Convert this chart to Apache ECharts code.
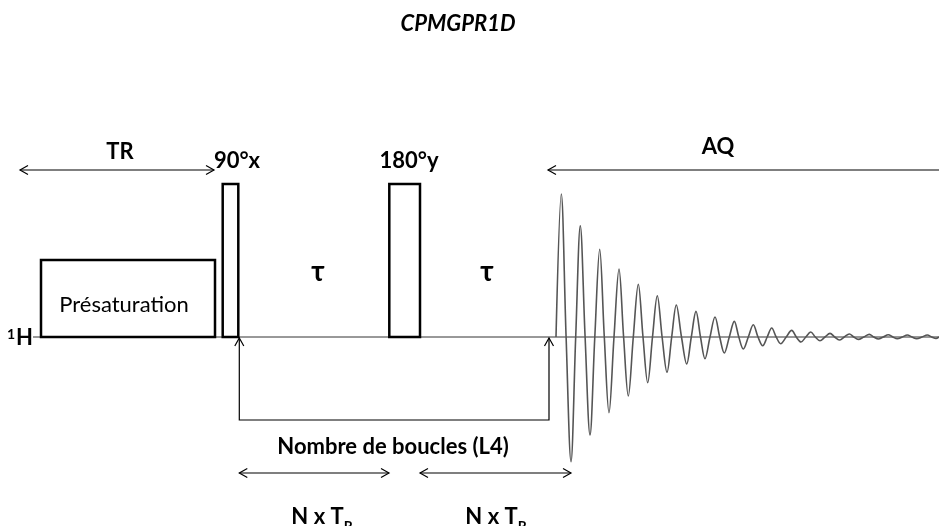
<!DOCTYPE html>
<html>
<head>
<meta charset="utf-8">
<script src="https://cdn.jsdelivr.net/npm/echarts@6/dist/echarts.min.js"></script>
<style>html,body{margin:0;padding:0;background:#fff;}#c{width:939px;height:526px;}</style>
</head>
<body>
<div id="c"></div>
<script>
// Time axis (arbitrary units) and amplitude relative to the 1H baseline
const baseline = [[33, 0], [939, 0]];
// pulses: [start, end, height]
const pulses = [[41, 215, 77], [222.7, 238.3, 153], [389.3, 420, 153]];
// horizontal arrows: [from, to, level, heads]
const hArrows = [[20, 214, 167, 'both'], [548, 939, 167, 'start'], [239.3, 389, -136, 'both'], [420, 571, -136, 'both']];
// loop bracket: [x1, x2, top, bottom]
const loopBracket = [[239.3, 549, -1, -83]];
// FID: extremes and baseline crossings
const fidTime = [556, 561.3, 566.1, 571, 575.7, 580.3, 585.1, 590, 594.8, 599.7, 604.3, 609, 614, 619, 623.6, 628.3, 633.3, 638.3, 643, 647.7, 652.5, 657.3, 662.1, 667, 671.7, 676.3, 681.5, 686.7, 691.3, 696, 700.5, 705, 710, 715, 719.7, 724.3, 729.3, 734.3, 738.8, 743.3, 748.3, 753.3, 758, 762.7, 767.2, 771.7, 776.2, 780.7, 786.2, 791.7, 796.3, 801, 805.8, 810.7, 815.3, 820, 825, 830, 834.7, 839.3, 844.3, 849.3, 853.8, 858.3, 863.8, 869.3, 873.8, 878.3, 883.3, 888.3, 892.8, 897.3, 902.3, 907.3, 912, 916.7, 922, 927.3, 931.7, 936, 939];
const fidAmp = [0, 143, 0, -124.7, 0, 111.3, 0, -98, 0, 87.7, 0, -75.7, 0, 68, 0, -59, 0, 52.7, 0, -45.7, 0, 41.3, 0, -35.3, 0, 32, 0, -27, 0, 25.6, 0, -21.7, 0, 20, 0, -16, 0, 15.6, 0, -12, 0, 12.3, 0, -8.7, 0, 9, 0, -6.7, 0, 6.6, 0, -5, 0, 5, 0, -3.7, 0, 3.6, 0, -3, 0, 3, 0, -2.4, 0, 2.6, 0, -2, 0, 2.3, 0, -1.7, 0, 2, 0, -1.7, 0, 2, 0, -1.5, 0];
// text labels: [text, x, y, kind]
const labels = [
  ['CPMGPR1D', 458, 313, 'title'],
  ['TR', 120, 185, 'bold'],
  ['90°x', 237, 176, 'bold'],
  ['180°y', 409, 176, 'bold'],
  ['AQ', 718, 190, 'bold'],
  ['τ', 318, 65, 'tau'],
  ['τ', 487, 65, 'tau'],
  ['Présaturation', 124, 32, 'regular'],
  ['{sup|1}{b|H}', 20, -1, 'rich'],
  ['Nombre de boucles (L4)', 393, -110, 'bold'],
  ['{b|N x T}{sub|R}', 322, -180, 'rich'],
  ['{b|N x T}{sub|R}', 496, -180, 'rich']
];

const FONT = 'Lato, "DejaVu Sans", sans-serif';
const fid = fidTime.map((t, i) => [t, fidAmp[i]]);

const chart = echarts.init(document.getElementById('c'), null, {renderer: 'canvas'});
const styles = {
  title: {fontFamily: FONT, fontWeight: 'bold', fontStyle: 'italic', fontSize: 22},
  bold: {fontFamily: FONT, fontWeight: 'bold', fontSize: 22},
  tau: {fontFamily: FONT, fontWeight: 'bold', fontSize: 28},
  regular: {fontFamily: FONT, fontWeight: 'normal', fontSize: 22},
  rich: {fontFamily: FONT, fontWeight: 'bold', fontSize: 22}
};
const rich = {
  b: {fontFamily: FONT, fontWeight: 'bold', fontSize: 22, fill: '#000', verticalAlign: 'bottom'},
  sup: {fontFamily: FONT, fontWeight: 'bold', fontSize: 14, fill: '#000', padding: [0, 1, 8, 0], verticalAlign: 'bottom'},
  sub: {fontFamily: FONT, fontWeight: 'bold', fontSize: 14, fill: '#000', padding: [0, 0, -5, 0], verticalAlign: 'bottom'}
};

chart.setOption({
  animation: false,
  grid: {left: 0, right: 0, top: 0, bottom: 0},
  xAxis: {type: 'value', min: 0, max: 939, show: false},
  yAxis: {type: 'value', min: -189, max: 337, show: false},
  series: [
    {type: 'line', data: baseline, symbol: 'none', lineStyle: {color: '#333', width: 1}, z: 1},
    {type: 'line', data: fid, symbol: 'none', smooth: 0.35, lineStyle: {color: '#555', width: 1.6}, z: 2},
    {type: 'custom', data: pulses, z: 3,
      renderItem: function (params, api) {
        const p0 = api.coord([api.value(0), 0]);
        const p1 = api.coord([api.value(1), api.value(2)]);
        return {type: 'rect', shape: {x: p0[0], y: p1[1], width: p1[0] - p0[0], height: p0[1] - p1[1]},
          style: {fill: '#fff', stroke: '#000', lineWidth: 2.5}};
      }},
    {type: 'custom', data: hArrows, z: 4,
      renderItem: function (params, api) {
        const a = api.coord([api.value(0), api.value(2)]);
        const b = api.coord([api.value(1), api.value(2)]);
        const heads = hArrows[params.dataIndex][3];
        const st = {stroke: '#000', lineWidth: 1.2, fill: 'none'};
        const ch = [{type: 'line', shape: {x1: a[0], y1: a[1], x2: b[0], y2: b[1]}, style: st}];
        if (heads === 'both' || heads === 'start') ch.push({type: 'polyline', shape: {points: [[a[0] + 8, a[1] - 4.5], [a[0], a[1]], [a[0] + 8, a[1] + 4.5]]}, style: st});
        if (heads === 'both' || heads === 'end') ch.push({type: 'polyline', shape: {points: [[b[0] - 8, b[1] - 4.5], [b[0], b[1]], [b[0] - 8, b[1] + 4.5]]}, style: st});
        return {type: 'group', children: ch};
      }},
    {type: 'custom', data: loopBracket, z: 4,
      renderItem: function (params, api) {
        const t1 = api.coord([api.value(0), api.value(2)]);
        const b1 = api.coord([api.value(0), api.value(3)]);
        const t2 = api.coord([api.value(1), api.value(2)]);
        const b2 = api.coord([api.value(1), api.value(3)]);
        const st = {stroke: '#000', lineWidth: 1.2, fill: 'none'};
        return {type: 'group', children: [
          {type: 'polyline', shape: {points: [t1, b1, b2, t2]}, style: st},
          {type: 'polyline', shape: {points: [[t1[0] - 4.5, t1[1] + 8], t1, [t1[0] + 4.5, t1[1] + 8]]}, style: st},
          {type: 'polyline', shape: {points: [[t2[0] - 4.5, t2[1] + 8], t2, [t2[0] + 4.5, t2[1] + 8]]}, style: st}
        ]};
      }},
    {type: 'custom', data: labels.map(l => [l[1], l[2]]), z: 5,
      renderItem: function (params, api) {
        const l = labels[params.dataIndex];
        const p = api.coord([api.value(0), api.value(1)]);
        const s = Object.assign({text: l[0], x: p[0], y: p[1], align: 'center', verticalAlign: 'middle', fill: '#000'}, styles[l[3]]);
        if (l[3] === 'rich') s.rich = rich;
        return {type: 'text', style: s};
      }}
  ]
});
</script>
</body>
</html>
